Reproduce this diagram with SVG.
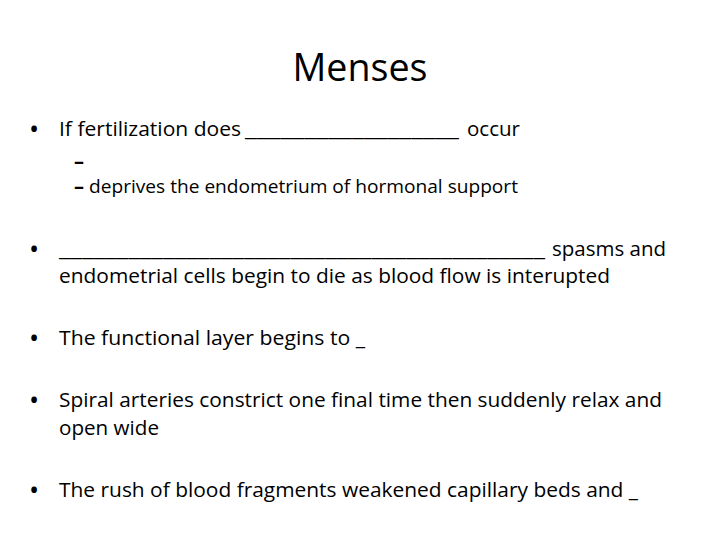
<svg xmlns="http://www.w3.org/2000/svg" width="720" height="540" viewBox="0 0 720 540">
<style>
text{font-family:"Open Sans","Liberation Sans",sans-serif;fill:#000}
.t{font-size:38px}
.b{font-size:20px}
.s{font-size:17.5px}
.d{font-size:27px}
.m{font-size:19px;font-weight:bold}
</style>
<rect width="720" height="540" fill="#fff"/>
<g id="title"><text class="t" x="360" y="81" text-anchor="middle" textLength="135" lengthAdjust="spacingAndGlyphs">Menses</text></g>
<g id="bullet1">
<text class="d" x="29" y="139">•</text>
<text class="b" x="59" y="136" textLength="182" lengthAdjust="spacingAndGlyphs">If fertilization does</text>
<text class="b" x="245" y="136" textLength="214" lengthAdjust="spacingAndGlyphs">__________________</text>
<text class="b" x="467" y="136" textLength="53" lengthAdjust="spacingAndGlyphs">occur</text>
<text class="m" x="74" y="168" textLength="10" lengthAdjust="spacingAndGlyphs">–</text>
<text class="m" x="74" y="193" textLength="10" lengthAdjust="spacingAndGlyphs">–</text>
<text class="s" x="89" y="193" textLength="429" lengthAdjust="spacingAndGlyphs">deprives the endometrium of hormonal support</text>
</g>
<g id="bullet2">
<text class="d" x="29" y="259">•</text>
<text class="b" x="59" y="256" textLength="486" lengthAdjust="spacingAndGlyphs">__________________________________________</text>
<text class="b" x="552" y="256" textLength="114" lengthAdjust="spacingAndGlyphs">spasms and</text>
<text class="b" x="59" y="283" textLength="551" lengthAdjust="spacingAndGlyphs">endometrial cells begin to die as blood flow is interupted</text>
</g>
<g id="bullet3">
<text class="d" x="29" y="348">•</text>
<text class="b" x="59" y="345" textLength="306" lengthAdjust="spacingAndGlyphs">The functional layer begins to _</text>
</g>
<g id="bullet4">
<text class="d" x="29" y="410">•</text>
<text class="b" x="59" y="407" textLength="603" lengthAdjust="spacingAndGlyphs">Spiral arteries constrict one final time then suddenly relax and</text>
<text class="b" x="59" y="435" textLength="100" lengthAdjust="spacingAndGlyphs">open wide</text>
</g>
<g id="bullet5">
<text class="d" x="29" y="500">•</text>
<text class="b" x="59" y="497" textLength="579" lengthAdjust="spacingAndGlyphs">The rush of blood fragments weakened capillary beds and _</text>
</g>
</svg>
